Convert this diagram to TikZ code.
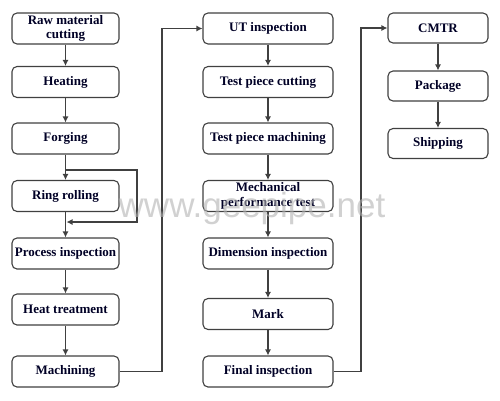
\documentclass[tikz,border=0pt]{standalone}
\usepackage{fontspec}
\setmainfont{Liberation Serif}
\newfontfamily\wmfont{Liberation Sans}
\usetikzlibrary{arrows.meta}
\begin{document}
\begin{tikzpicture}[x=1pt,y=-1pt,
  box/.style={draw=black!75, line width=1.1pt, rounded corners=5pt, fill=white,
    font=\fontsize{13}{14.5}\selectfont\bfseries, text=black!85!blue, align=center, inner sep=0pt},
  lbox/.style={box, minimum width=107pt, minimum height=31pt},
  mbox/.style={box, minimum width=130pt, minimum height=31pt},
  rbox/.style={box, minimum width=100pt, minimum height=30pt},
  conn/.style={draw=black!75, line width=1.1pt, -{Latex[length=6pt,width=6pt]}},
  plain/.style={draw=black!75, line width=1.1pt}]
\useasboundingbox (0,0) rectangle (500,400);
% left column
\node[lbox] (raw) at (65.5,28.5) {Raw material\\cutting};
\node[lbox] (heat) at (65.5,82) {Heating};
\node[lbox] (forg) at (65.5,138.5) {Forging};
\node[lbox] (ring) at (65.5,196) {Ring rolling};
\node[lbox] (proc) at (65.5,253.5) {Process inspection};
\node[lbox] (ht) at (65.5,309.5) {Heat treatment};
\node[lbox] (mach) at (65.5,371.5) {Machining};
% middle column
\node[mbox] (ut) at (268,28.5) {UT inspection};
\node[mbox] (tpc) at (268,82) {Test piece cutting};
\node[mbox] (tpm) at (268,138.5) {Test piece machining};
\node[mbox] (mech) at (268,196) {Mechanical\\performance test};
\node[mbox] (dim) at (268,253.5) {Dimension inspection};
\node[mbox] (mark) at (268,314) {Mark};
\node[mbox] (fin) at (268,371.5) {Final inspection};
% right column
\node[rbox] (cmtr) at (438,28) {CMTR};
\node[rbox] (pack) at (438,86) {Package};
\node[rbox] (ship) at (438,143.5) {Shipping};
% connectors
\draw[conn] (raw) -- (heat);
\draw[conn] (heat) -- (forg);
\draw[conn] (forg) -- (ring);
\draw[conn] (ring) -- (proc);
\draw[conn] (proc) -- (ht);
\draw[conn] (ht) -- (mach);
\coordinate (lt) at (65.5,170);
\coordinate (lb) at (66.5,222);
\draw[conn] (lt) -- (137,170) -- (137,222) -- (lb);
\draw[conn] (mach.east) -- (162,371.5) -- (162,28.5) -- (ut.west);
\draw[conn] (ut) -- (tpc);
\draw[conn] (tpc) -- (tpm);
\draw[conn] (tpm) -- (mech);
\draw[conn] (mech) -- (dim);
\draw[conn] (dim) -- (mark);
\draw[conn] (mark) -- (fin);
\draw[conn] (fin.east) -- (361,371.5) -- (361,28) -- (cmtr.west);
\draw[conn] (cmtr) -- (pack);
\draw[conn] (pack) -- (ship);
% watermark
\node[text=black!30, opacity=0.6, font=\wmfont\fontsize{35}{35}\selectfont, inner sep=0pt] (wm) at (252,208) {www.geepipe.net};
\end{tikzpicture}
\end{document}
